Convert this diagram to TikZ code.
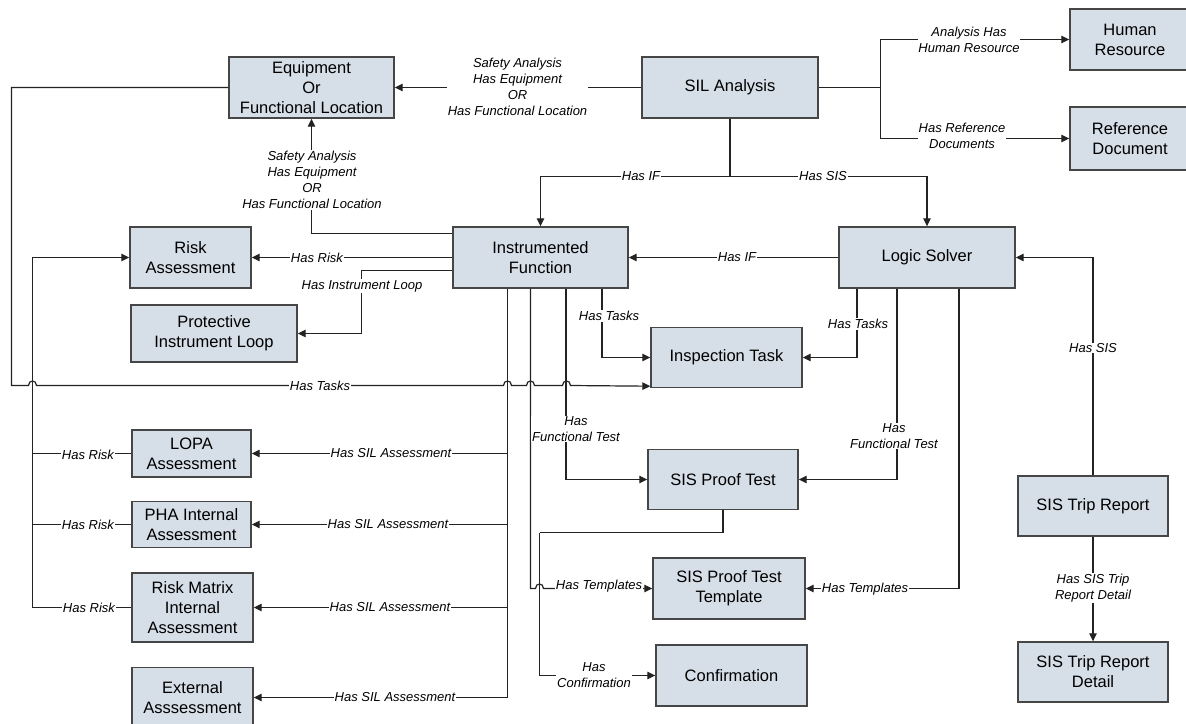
\documentclass[tikz,border=0pt]{standalone}
\usepackage{fontspec}
\setmainfont{Liberation Sans}
\usetikzlibrary{arrows.meta}
\definecolor{boxfill}{RGB}{214,222,232}
\definecolor{boxline}{RGB}{70,70,70}
\definecolor{connc}{RGB}{35,35,35}
\begin{document}
\begin{tikzpicture}[x=1pt,y=-1pt,
  box/.style={draw=boxline,line width=1.4pt,fill=boxfill,align=center,inner sep=0pt,font=\fontsize{16.5}{20}\selectfont},
  lbl/.style={fill=white,inner sep=0.8pt,align=center,font=\fontsize{13}{16}\selectfont\itshape},
  link/.style={draw=connc,line width=1.2pt},
  arr/.style={link,-{Triangle[length=8pt,width=7.5pt]}},
]
\fill[white] (0,0) rectangle (1186,723);
\useasboundingbox (0,0) rectangle (1186,723);

% boxes
\node[box,minimum width=165pt,minimum height=61pt] (eq) at (311.5,87.5) {Equipment\\Or\\Functional Location};
\node[box,minimum width=176pt,minimum height=61pt] (sil) at (730,87.5) {SIL Analysis};
\node[box,minimum width=120pt,minimum height=61pt] (hr) at (1130,39.5) {Human\\Resource};
\node[box,minimum width=120pt,minimum height=63pt] (ref) at (1130,138.5) {Reference\\Document};
\node[box,minimum width=176pt,minimum height=61pt] (ls) at (927,257.5) {Logic Solver};
\node[box,minimum width=175pt,minimum height=61pt] (if) at (540.5,257.5) {Instrumented\\Function};
\node[box,minimum width=121pt,minimum height=61pt] (ra) at (190.5,257.5) {Risk\\Assessment};
\node[box,minimum width=166pt,minimum height=57pt] (pil) at (214,333.5) {Protective\\Instrument Loop};
\node[box,minimum width=151pt,minimum height=60pt] (it) at (726.5,357.5) {Inspection Task};
\node[box,minimum width=150pt,minimum height=60pt] (spt) at (723,479.5) {SIS Proof Test};
\node[box,minimum width=152pt,minimum height=61pt] (sptt) at (729,588.5) {SIS Proof Test\\Template};
\node[box,minimum width=151pt,minimum height=61pt] (conf) at (731.5,675.5) {Confirmation};
\node[box,minimum width=119pt,minimum height=47pt] (lopa) at (191.5,453.5) {LOPA\\Assessment};
\node[box,minimum width=119pt,minimum height=46pt] (pha) at (191.5,524.5) {PHA Internal\\Assessment};
\node[box,minimum width=121pt,minimum height=69pt] (rm) at (192.5,607.5) {Risk Matrix\\Internal\\Assessment};
\node[box,minimum width=121pt,minimum height=60pt] (ext) at (192.5,697.5) {External\\Asssessment};
\node[box,minimum width=150pt,minimum height=60pt] (str) at (1093,506) {SIS Trip Report};
\node[box,minimum width=150pt,minimum height=60pt] (strd) at (1093,672) {SIS Trip Report\\Detail};

% helper coordinates
\coordinate (sj) at (880.5,87.5);
\coordinate (sb) at (730,176.5);
\coordinate (pj) at (361.5,333.5);
\coordinate (tl) at (11.5,87.5);
\coordinate (bl) at (11.5,385.5);
\coordinate (sv) at (507.5,0);
\coordinate (rvt) at (32.5,257.5);
\coordinate (cj) at (539.5,532.5);

% connectors
\draw[arr] (sil.west) -- (sil.west -| eq.east);
\draw[link] (sil.east) -- (sj);
\draw[arr] (sj) |- (hr.west);
\draw[arr] (sj) |- (ref.west);
\draw[link] (sil.south) -- (sb);
\draw[arr] (sb) -| (if.north);
\draw[arr] (sb) -| (ls.north);
\draw[arr] (ls.west) -- (if.east);
\draw[arr] ([yshift=-7pt]if.north west) -| (eq.south);
\draw[arr] (if.west) -- (if.west -| ra.east);
\draw[arr] ([yshift=-13pt]if.west) -| (pj) -- (pil.east);
\draw[arr] (eq.west) -- (tl) -- (bl) -- (28.5,385.5) .. controls (28.5,379.5) and (36.5,379.5) .. (36.5,385.5)
  -- (503.5,385.5) .. controls (503.5,379.5) and (511.5,379.5) .. (511.5,385.5)
  -- (526.5,385.5) .. controls (526.5,379.5) and (534.5,379.5) .. (534.5,385.5)
  -- (562.5,385.5) .. controls (562.5,379.5) and (570.5,379.5) .. (570.5,385.5)
  -- ([yshift=2pt]it.south west);
\draw[arr] ([xshift=61.5pt]if.south) |- (it.west);
\draw[arr] ([xshift=25.5pt]if.south) |- (spt.west);
\draw[arr] ([xshift=-10pt]if.south) -- (530.5,588.5) -- (535.5,588.5) .. controls (535.5,582.5) and (543.5,582.5) .. (543.5,588.5) -- (sptt.west);
\draw[arr] ([xshift=-33pt]if.south) |- (ext.east);
\draw[arr] (lopa.east -| sv) -- (lopa.east);
\draw[arr] (pha.east -| sv) -- (pha.east);
\draw[arr] (rm.east -| sv) -- (rm.east);
\draw[arr] (rm.west) -| (rvt) -- (ra.west);
\draw[link] (lopa.west) -- (lopa.west -| rvt);
\draw[link] (pha.west) -- (pha.west -| rvt);
\draw[arr] ([xshift=-70pt]ls.south) |- (it.east);
\draw[arr] ([xshift=-30pt]ls.south) |- (spt.east);
\draw[arr] ([xshift=32pt]ls.south) |- (sptt.east);
\draw[arr] (str.north) |- (ls.east);
\draw[arr] (str.south) -- (strd.north);
\draw[link] (spt.south) |- (cj);
\draw[arr] (cj) |- (conf.west);

% labels
\node[lbl] (l1) at (517.5,86.5) {Safety Analysis\\Has Equipment\\OR\\Has Functional Location};
\node[lbl] (l2) at (312,180) {Safety Analysis\\Has Equipment\\OR\\Has Functional Location};
\node[lbl] (l3) at (969,40) {Analysis Has\\Human Resource};
\node[lbl] (l4) at (962,136) {Has Reference\\Documents};
\node[lbl] (l5) at (641,176.5) {Has IF};
\node[lbl] (l6) at (823,176.5) {Has SIS};
\node[lbl] (l7) at (737,257.5) {Has IF};
\node[lbl] (l8) at (317,257.5) {Has Risk};
\node[lbl] (l9) at (362,286) {Has Instrument Loop};
\node[lbl] (l10) at (320,385.5) {Has Tasks};
\node[lbl] (l11) at (609,316) {Has Tasks};
\node[lbl] (l12) at (858,324) {Has Tasks};
\node[lbl] (l13) at (576,429) {Has\\Functional Test};
\node[lbl] (l14) at (894,436) {Has\\Functional Test};
\node[lbl] (l15) at (599,586) {Has Templates};
\node[lbl] (l16) at (865,589) {Has Templates};
\node[lbl] (l17) at (594,675) {Has\\Confirmation};
\node[lbl] (l18) at (391,453.5) {Has SIL Assessment};
\node[lbl] (l19) at (388,524.5) {Has SIL Assessment};
\node[lbl] (l20) at (390,607.5) {Has SIL Assessment};
\node[lbl] (l21) at (395,697.5) {Has SIL Assessment};
\node[lbl] (l22) at (88,454.5) {Has Risk};
\node[lbl] (l23) at (88,524.5) {Has Risk};
\node[lbl] (l24) at (89,607.5) {Has Risk};
\node[lbl] (l25) at (1093,348) {Has SIS};
\node[lbl] (l26) at (1093,588) {Has SIS Trip\\Report Detail};
\end{tikzpicture}
\end{document}
